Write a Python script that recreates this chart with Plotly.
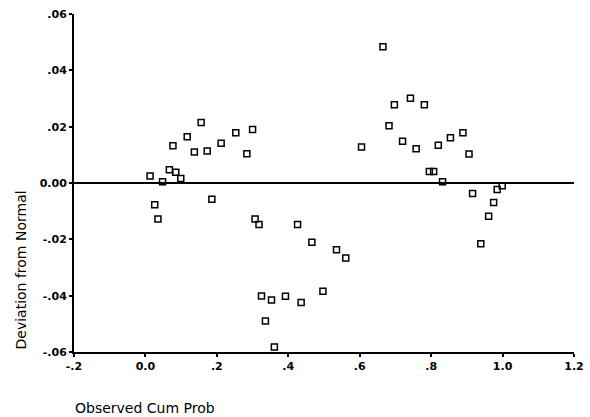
import plotly.graph_objects as go

obs_cum_prob = [0.013, 0.026, 0.035, 0.048, 0.067, 0.077, 0.085, 0.099, 0.117, 0.137,
                0.156, 0.173, 0.186, 0.212, 0.253, 0.284, 0.300, 0.307, 0.318, 0.325,
                0.336, 0.353, 0.361, 0.392, 0.426, 0.436, 0.466, 0.497, 0.535, 0.561,
                0.605, 0.665, 0.682, 0.697, 0.720, 0.742, 0.758, 0.781, 0.795, 0.807,
                0.820, 0.832, 0.854, 0.889, 0.906, 0.916, 0.939, 0.961, 0.975, 0.985, 0.999]
deviation = [0.0025, -0.0077, -0.0128, 0.0004, 0.0047, 0.0132, 0.0038, 0.0016, 0.0164, 0.0110,
             0.0215, 0.0114, -0.0058, 0.0141, 0.0178, 0.0104, 0.0190, -0.0128, -0.0147, -0.0401,
             -0.0490, -0.0415, -0.0582, -0.0402, -0.0147, -0.0424, -0.0210, -0.0384, -0.0237, -0.0266,
             0.0128, 0.0484, 0.0203, 0.0278, 0.0148, 0.0301, 0.0122, 0.0278, 0.0041, 0.0041,
             0.0134, 0.0004, 0.0161, 0.0178, 0.0103, -0.0037, -0.0216, -0.0118, -0.0069, -0.0023, -0.0010]

x_ticks = [-0.2, 0.0, 0.2, 0.4, 0.6, 0.8, 1.0, 1.2]
x_labels = ["-.2", "0.0", ".2", ".4", ".6", ".8", "1.0", "1.2"]
y_ticks = [-0.06, -0.04, -0.02, 0.0, 0.02, 0.04, 0.06]
y_labels = ["-.06", "-.04", "-.02", "0.00", ".02", ".04", ".06"]

fig = go.Figure()
fig.add_trace(go.Scatter(
    x=obs_cum_prob, y=deviation, mode="markers",
    marker=dict(symbol="square-open", size=6, color="black", line=dict(width=1.5, color="black")),
    showlegend=False, cliponaxis=False,
))

fig.add_shape(type="line", xref="x", yref="y", x0=-0.2, x1=1.21, y0=0, y1=0,
              line=dict(color="black", width=2), layer="below")

tickfont = dict(family="DejaVu Sans", size=11, color="black", weight="bold")
fig.update_xaxes(range=[-0.2, 1.2], tickvals=x_ticks, ticktext=x_labels,
                 showgrid=False, zeroline=False, showline=True, linecolor="black", linewidth=2,
                 ticks="outside", ticklen=3, tickwidth=2, tickcolor="black", tickfont=tickfont,
                 automargin=False)
fig.update_yaxes(range=[-0.06, 0.06], tickvals=y_ticks, ticktext=y_labels,
                 showgrid=False, zeroline=False, showline=True, linecolor="black", linewidth=2,
                 ticks="outside", ticklen=3, tickwidth=2, tickcolor="black", tickfont=tickfont,
                 automargin=False)

fig.add_annotation(text="Deviation from Normal", xref="paper", yref="paper", x=-0.108, y=0,
                   xanchor="center", yanchor="bottom", textangle=-90, showarrow=False,
                   font=dict(family="DejaVu Sans", size=14, color="black"))
fig.add_annotation(text="Observed Cum Prob", xref="paper", yref="paper", x=-0.002, y=-0.165,
                   xanchor="left", yanchor="middle", showarrow=False,
                   font=dict(family="DejaVu Sans", size=14, color="black"))

fig.update_layout(width=590, height=417, margin=dict(l=74, r=16, t=14, b=65),
                  plot_bgcolor="white", paper_bgcolor="white")
fig.write_html("out.html", config={"displayModeBar": False},
               post_script="document.body.style.margin='0';")
